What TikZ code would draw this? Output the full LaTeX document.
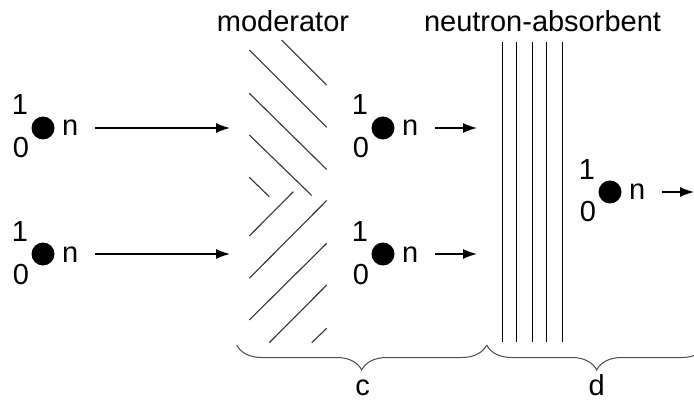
\documentclass[tikz,border=0pt]{standalone}
\usepackage{fontspec}
\setmainfont{Liberation Sans}
\usetikzlibrary{arrows.meta,decorations.pathreplacing}
\newcommand\myneutron[3]{%
  \node[dotn] (#1) at (#2,#3) {};
  \node[lbl, anchor=base] (#1-A) at (#2-23,#3-13) {1};
  \node[lbl, anchor=base] (#1-Z) at (#2-22,#3+30) {0};
  \node[lbl, anchor=base west] (#1-n) at (#2+19,#3+8) {n};
}
\begin{document}
\begin{tikzpicture}[x=1pt,y=-1pt,
  lbl/.style={inner sep=0pt, font=\fontsize{29}{34}\selectfont},
  dotn/.style={circle, fill=black, minimum size=23pt, inner sep=0pt},
  arr/.style={-{Latex[length=14pt,width=10pt]}, line width=1.3pt},
  hatch/.style={line width=1.1pt, black!80},
  absorb/.style={line width=1.3pt},
  brc/.style={decorate, decoration={brace, amplitude=25pt}, line width=1pt, black!70}]
\clip (0,0) rectangle (694,401);
\useasboundingbox (0,0) rectangle (694,401);
\fill[white] (0,0) rectangle (694,401);

% titles
\node[lbl, anchor=base] (mod) at (283,32) {moderator};
\node[lbl, anchor=base] (abs) at (542.5,32) {neutron-absorbent};

% neutrons
\myneutron{n1}{43}{128}
\myneutron{n2}{43}{254}
\myneutron{n3}{383}{128}
\myneutron{n4}{383}{254}
\myneutron{n5}{610}{192}

% arrow targets
\coordinate (t1) at (230,128);
\coordinate (t2) at (230,254);
\coordinate (t3) at (477,128);
\coordinate (t4) at (477,254);
\coordinate (t5) at (694,192);

\draw[arr, shorten <=16pt] (n1-n.east |- n1) -- (t1);
\draw[arr, shorten <=16pt] (n2-n.east |- n2) -- (t2);
\draw[arr, shorten <=16pt] (n3-n.east |- n3) -- (t3);
\draw[arr, shorten <=16pt] (n4-n.east |- n4) -- (t4);
\draw[arr, shorten <=16pt] (n5-n.east |- n5) -- (t5);

% moderator hatching
\draw[hatch] (281.7,40) -- (326.7,85);
\draw[hatch] (249.3,50) -- (326.7,127.4);
\draw[hatch] (249.3,93.3) -- (326.7,169.5);
\draw[hatch] (249.3,135) -- (311.7,195.5);
\draw[hatch] (249.3,177.3) -- (269.3,196.7);
\draw[hatch] (249.3,236) -- (293.3,191.7);
\draw[hatch] (249.3,278.3) -- (326.7,200.5);
\draw[hatch] (249.3,320) -- (326.7,243.3);
\draw[hatch] (269.3,342.7) -- (326.7,285);
\draw[hatch] (311.7,342.7) -- (326.7,328.3);

% absorbent plates
\foreach \xx in {502.3,516.7,532.7,546.7,562.3}
  \draw[absorb] (\xx,42) -- (\xx,342);

% braces
\draw[brc] (486.7,345) -- (236.7,345);
\draw[brc] (706.7,345) -- (486.7,345);
\node[lbl, anchor=base] (c) at (362.7,395) {c};
\node[lbl, anchor=base] (d) at (596.7,395) {d};
\end{tikzpicture}
\end{document}
